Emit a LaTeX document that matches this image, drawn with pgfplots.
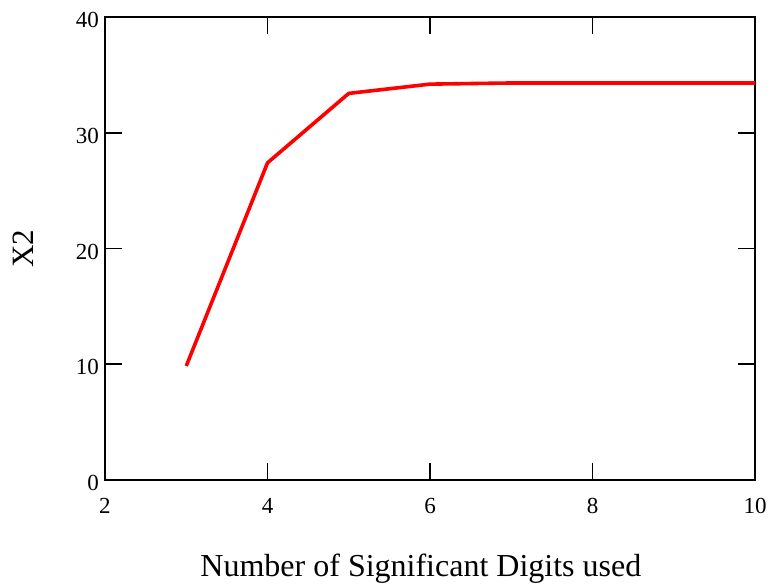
\documentclass[border=0pt]{standalone}
\usepackage{fontspec}
\setmainfont{Liberation Serif}
\usepackage{pgfplots}
\pgfplotsset{compat=1.18}
\begin{document}
\begin{tikzpicture}
\path[use as bounding box] (0,0) rectangle (771pt,585pt);
\begin{axis}[
  at={(105pt,105pt)}, anchor=south west,
  scale only axis, width=650pt, height=463pt,
  xmin=2, xmax=10, ymin=0, ymax=40,
  xtick={2,4,6,8,10}, ytick={0,10,20,30,40},
  minor tick num=0,
  tick align=inside, major tick length=17pt,
  axis line style={line width=1.6pt},
  every tick/.style={line width=1.6pt, black},
  /pgf/number format/assume math mode=true,
  tick label style={font=\fontsize{23}{27}\selectfont},
  xticklabel style={anchor=north, inner sep=0pt, yshift=-18pt},
  yticklabel style={anchor=east, inner sep=0pt, xshift=-6pt, yshift=-3pt},
  xlabel={Number of Significant Digits used},
  ylabel={X2},
  xlabel style={font=\fontsize{32}{38}\selectfont, at={(axis description cs:0.486,-0.2095)}, anchor=base},
  ylabel style={font=\fontsize{31}{37}\selectfont, at={(axis description cs:-0.126,0.5)}, anchor=center},
  clip=false,
]
\addplot[red, line width=3.6pt] coordinates {
(3,9.85) (4,27.4) (5,33.4) (6,34.2) (7,34.3) (8,34.3) (9,34.3) (10,34.3)
};
\end{axis}
\end{tikzpicture}
\end{document}
